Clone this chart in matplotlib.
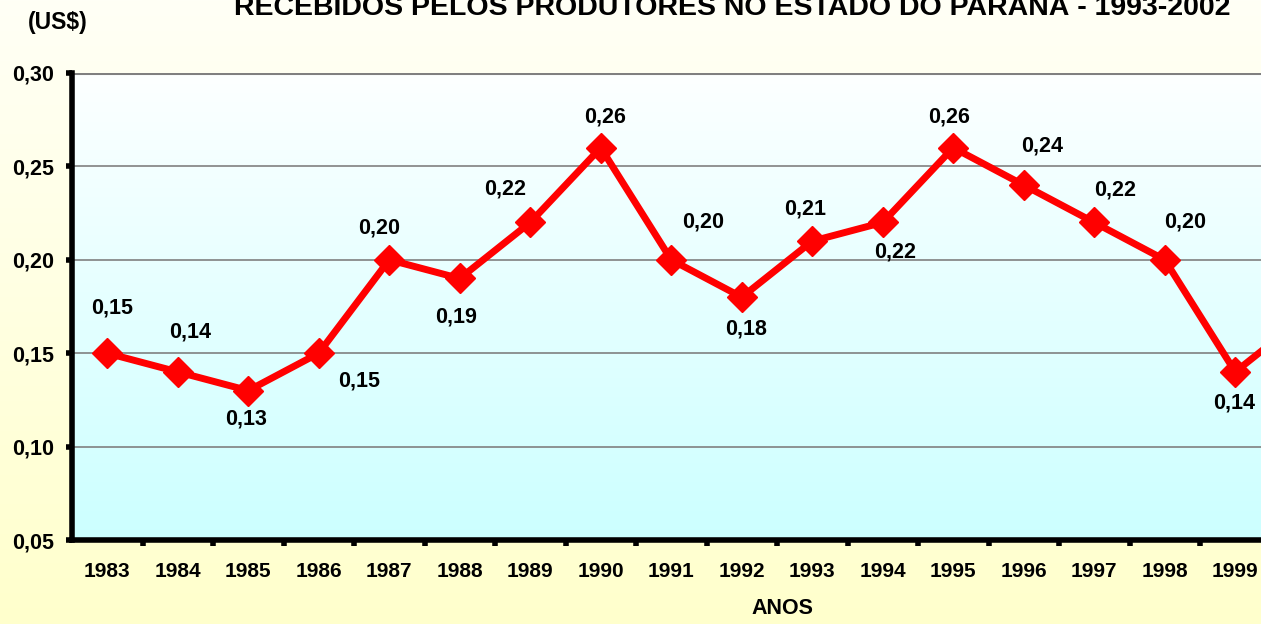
import numpy as np
import matplotlib
matplotlib.use("Agg")
import matplotlib.pyplot as plt
from matplotlib.colors import LinearSegmentedColormap

plt.rcParams['font.family'] = ['Liberation Sans', 'DejaVu Sans']
plt.rcParams['font.weight'] = 'bold'

# Dados (preço recebido, US$)
anos = ['1983', '1984', '1985', '1986', '1987', '1988', '1989', '1990', '1991',
        '1992', '1993', '1994', '1995', '1996', '1997', '1998', '1999', '2000']
precos = [0.15, 0.14, 0.13, 0.15, 0.20, 0.19, 0.22, 0.26, 0.20,
          0.18, 0.21, 0.22, 0.26, 0.24, 0.22, 0.20, 0.14, 0.17]
rotulos = ['0,15', '0,14', '0,13', '0,15', '0,20', '0,19', '0,22', '0,26', '0,20',
           '0,18', '0,21', '0,22', '0,26', '0,24', '0,22', '0,20', '0,14']
yticks = [0.05, 0.10, 0.15, 0.20, 0.25, 0.30]
ylabels = ['0,05', '0,10', '0,15', '0,20', '0,25', '0,30']

# deslocamento dos rotulos (pixels)
offsets = [(5, 45), (12, 40), (-2, -28), (40, -28), (-10, 32), (-4, -39), (-25, 33),
           (4, 31), (32, 38), (4, -32), (-7, 32), (12, -30), (-4, 31), (18, 39),
           (21, 32), (20, 38), (-1, -31)]

W, H = 1261, 624
fig = plt.figure(figsize=(W / 100, H / 100), dpi=100)

# fundo da figura (gradiente)
bg = fig.add_axes([0, 0, 1, 1], zorder=-10)
cmap_bg = LinearSegmentedColormap.from_list('bg', ['#ffffcc', '#fffff6'])
bg.imshow(np.linspace(0, 1, 256).reshape(-1, 1), aspect='auto', cmap=cmap_bg,
          extent=[0, 1, 0, 1], origin='lower')
bg.axis('off')

left_px, top_px, bottom_px = 72, 73, 540
step_px = 70.5
n = len(anos)
ax = fig.add_axes([left_px / W, (H - bottom_px) / H,
                   n * step_px / W, (bottom_px - top_px) / H])
ax.set_xlim(-0.5, n - 0.5)
ax.set_ylim(0.05, 0.30)

# fundo da area do grafico
cmap_ax = LinearSegmentedColormap.from_list('ax', ['#ccffff', '#fdffff'])
ax.imshow(np.linspace(0, 1, 256).reshape(-1, 1), aspect='auto', cmap=cmap_ax,
          extent=[-0.5, n - 0.5, 0.05, 0.30], origin='lower', zorder=0)

for y in yticks[1:]:
    ax.axhline(y, color='#808080', lw=1.2 if y < 0.30 else 2.2, zorder=1)

x = np.arange(n)
ax.plot(x, precos, color='#ff0000', lw=5, marker='D', ms=15, zorder=3, clip_on=True)

for xi, yi, txt, (dx, dy) in zip(x, precos, rotulos, offsets):
    ax.annotate(txt, (xi, yi), xytext=(dx * 0.72, dy * 0.72), textcoords='offset points',
                ha='center', va='center', fontsize=15.5, fontweight='bold', zorder=4)

ax.set_yticks(yticks)
ax.set_yticklabels(ylabels)
ax.set_xticks(x)
ax.set_xticklabels(anos)
ax.set_xticks(np.arange(n - 1) + 0.5, minor=True)
ax.tick_params(axis='x', which='major', length=0, pad=16, labelsize=15)
ax.tick_params(axis='x', which='minor', length=4, width=4, direction='out')
ax.tick_params(axis='y', length=4, width=4, direction='out', pad=9, labelsize=15.5)
for lab in ax.get_xticklabels() + ax.get_yticklabels():
    lab.set_fontweight('bold')

for s in ['top', 'right']:
    ax.spines[s].set_visible(False)
ax.spines['left'].set_linewidth(4)
ax.spines['bottom'].set_linewidth(4)

fig.text(58 / W, 1 - 22 / H, '(US$)', ha='center', va='center', fontsize=16.5, fontweight='bold')
fig.text(732 / W, 1 - 15 / H, 'RECEBIDOS PELOS PRODUTORES NO ESTADO DO PARANÁ - 1993-2002',
         ha='center', va='baseline', fontsize=20.5, fontweight='bold')
fig.text(782 / W, 1 - 608 / H, 'ANOS', ha='center', va='center', fontsize=15.5, fontweight='bold')

fig.savefig('out.png', dpi=100)
